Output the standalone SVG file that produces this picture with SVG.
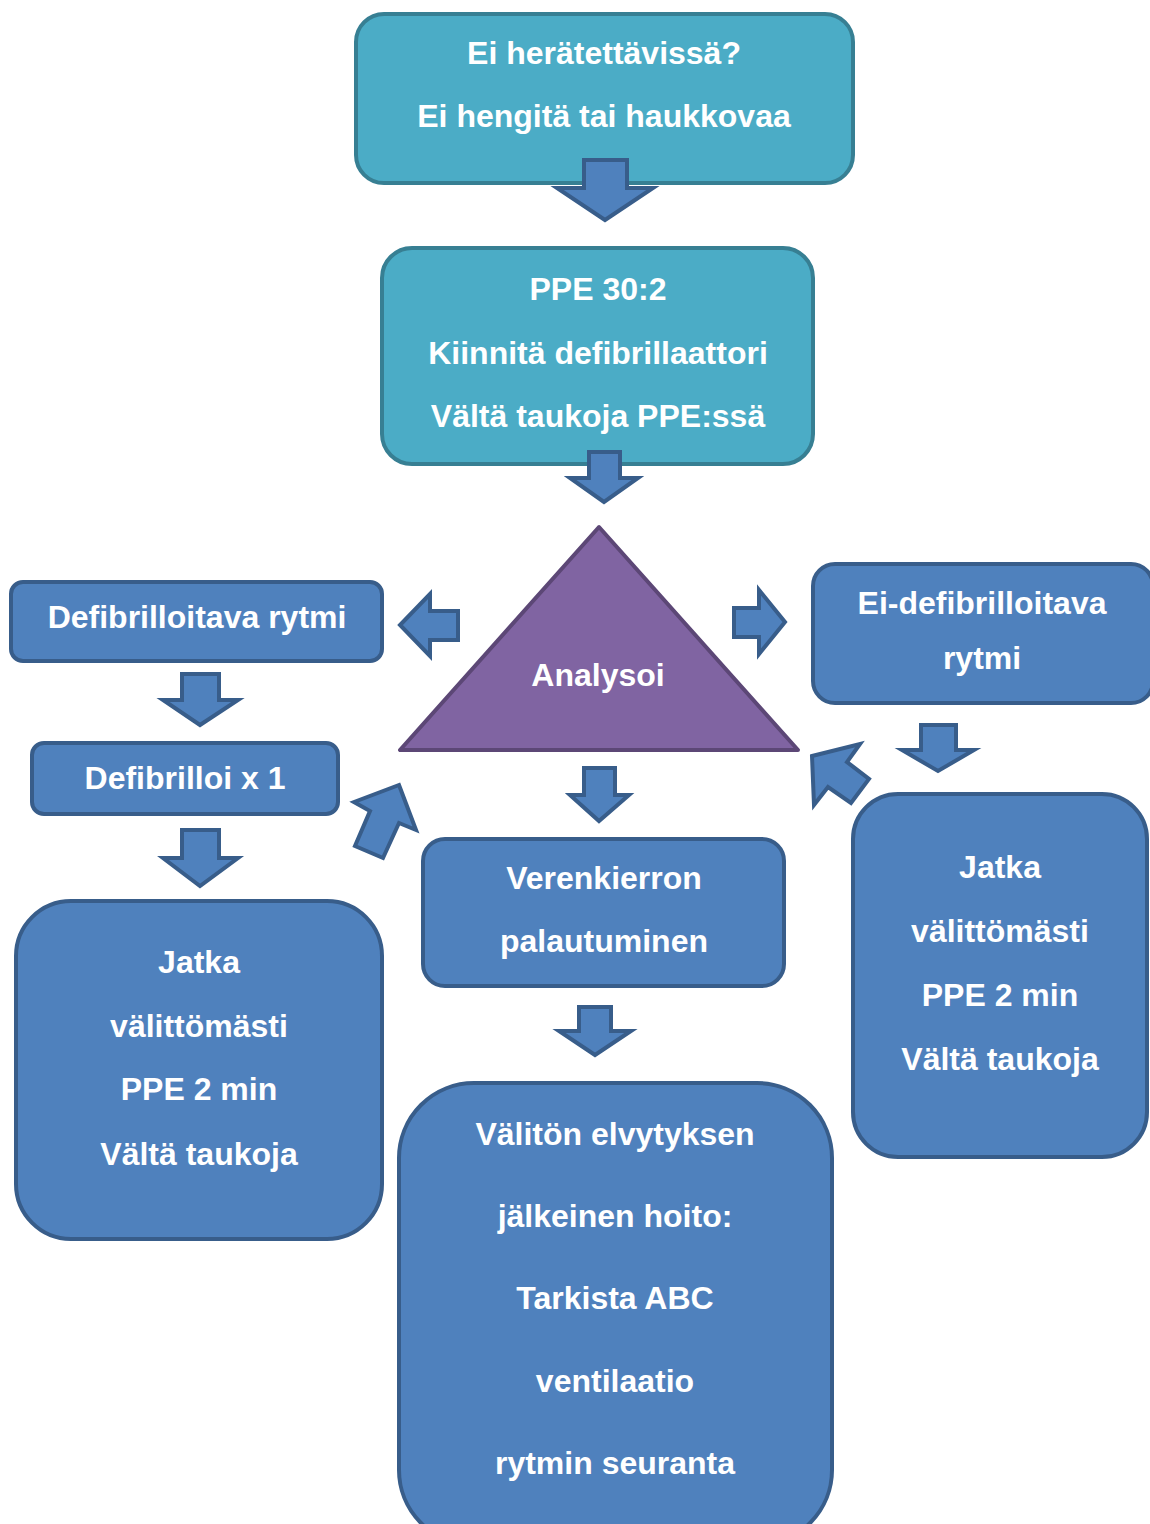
<svg xmlns="http://www.w3.org/2000/svg" width="1150" height="1524" viewBox="0 0 1150 1524">
<style>
.teal{fill:#4BACC6;stroke:#377F93;stroke-width:4}
.blue{fill:#4F81BD;stroke:#385D8A;stroke-width:4}
.tri{fill:#8064A2;stroke:#5C4776;stroke-width:4;stroke-linejoin:round}
.arrow{fill:#4F81BD;stroke:#385D8A;stroke-width:4;stroke-linejoin:miter}
text{font-family:"Liberation Sans",Arial,sans-serif;font-weight:bold;font-size:32px;fill:#FFFFFF;text-anchor:middle}
</style>
<rect width="1150" height="1524" fill="#FFFFFF"/>
<g id="n1">
<rect class="teal" x="356" y="14" width="497" height="169" rx="28"/>
<text x="604" y="64">Ei herätettävissä?</text>
<text x="604" y="127">Ei hengitä tai haukkovaa</text>
</g>
<g id="n2">
<rect class="teal" x="382" y="248" width="431" height="216" rx="30"/>
<text x="598" y="300">PPE 30:2</text>
<text x="598" y="364">Kiinnitä defibrillaattori</text>
<text x="598" y="427">Vältä taukoja PPE:ssä</text>
</g>
<g id="n3">
<polygon class="tri" points="599,527 400,750 798,750"/>
<text x="598" y="686">Analysoi</text>
</g>
<g id="n4">
<rect class="blue" x="11" y="582" width="371" height="79" rx="12"/>
<text x="197" y="628">Defibrilloitava rytmi</text>
</g>
<g id="n5">
<rect class="blue" x="813" y="564" width="340" height="139" rx="22"/>
<text x="982" y="614">Ei-defibrilloitava</text>
<text x="982" y="669">rytmi</text>
</g>
<g id="n6">
<rect class="blue" x="32" y="743" width="306" height="71" rx="12"/>
<text x="185" y="789">Defibrilloi x 1</text>
</g>
<g id="n7">
<rect class="blue" x="16" y="901" width="366" height="338" rx="55"/>
<text x="199" y="973">Jatka</text>
<text x="199" y="1037">välittömästi</text>
<text x="199" y="1100">PPE 2 min</text>
<text x="199" y="1165">Vältä taukoja</text>
</g>
<g id="n8">
<rect class="blue" x="853" y="794" width="294" height="363" rx="45"/>
<text x="1000" y="878">Jatka</text>
<text x="1000" y="942">välittömästi</text>
<text x="1000" y="1006">PPE 2 min</text>
<text x="1000" y="1070">Vältä taukoja</text>
</g>
<g id="n9">
<rect class="blue" x="423" y="839" width="361" height="147" rx="22"/>
<text x="604" y="889">Verenkierron</text>
<text x="604" y="952">palautuminen</text>
</g>
<g id="n10">
<rect class="blue" x="399" y="1083" width="433" height="462" rx="75"/>
<text x="615" y="1145">Välitön elvytyksen</text>
<text x="615" y="1227">jälkeinen hoito:</text>
<text x="615" y="1309">Tarkista ABC</text>
<text x="615" y="1392">ventilaatio</text>
<text x="615" y="1474">rytmin seuranta</text>
</g>
<g id="connectors">
<polygon class="arrow" points="584,160 627,160 627,188 653,188 605,220 557,188 584,188"/>
<polygon class="arrow" points="589,452 620,452 620,478 638,478 604,502 570,478 589,478"/>
<polygon class="arrow" points="458,611 458,640 430,640 430,656 400,625 430,594 430,611"/>
<polygon class="arrow" points="734,608 734,637 759,637 759,654 785,622 759,590 759,608"/>
<polygon class="arrow" points="182,674 219,674 219,700 238,700 200,725 163,700 182,700"/>
<polygon class="arrow" points="182,830 219,830 219,858 238,858 200,886 163,858 182,858"/>
<polygon class="arrow" points="584,768 615,768 615,795 629,795 599,821 570,795 584,795"/>
<polygon class="arrow" points="921,725 956,725 956,750 974,750 938,771 902,750 921,750"/>
<polygon class="arrow" points="579,1007 611,1007 611,1031 631,1031 595,1055 559,1031 579,1031"/>
<polygon class="arrow" points="399,785 416,830 399,823 383,858 355,846 370,811 354,802"/>
<polygon class="arrow" points="812,756 860,744 847,762 869,779 851,803 828,787 814,805"/>
</g>
</svg>
